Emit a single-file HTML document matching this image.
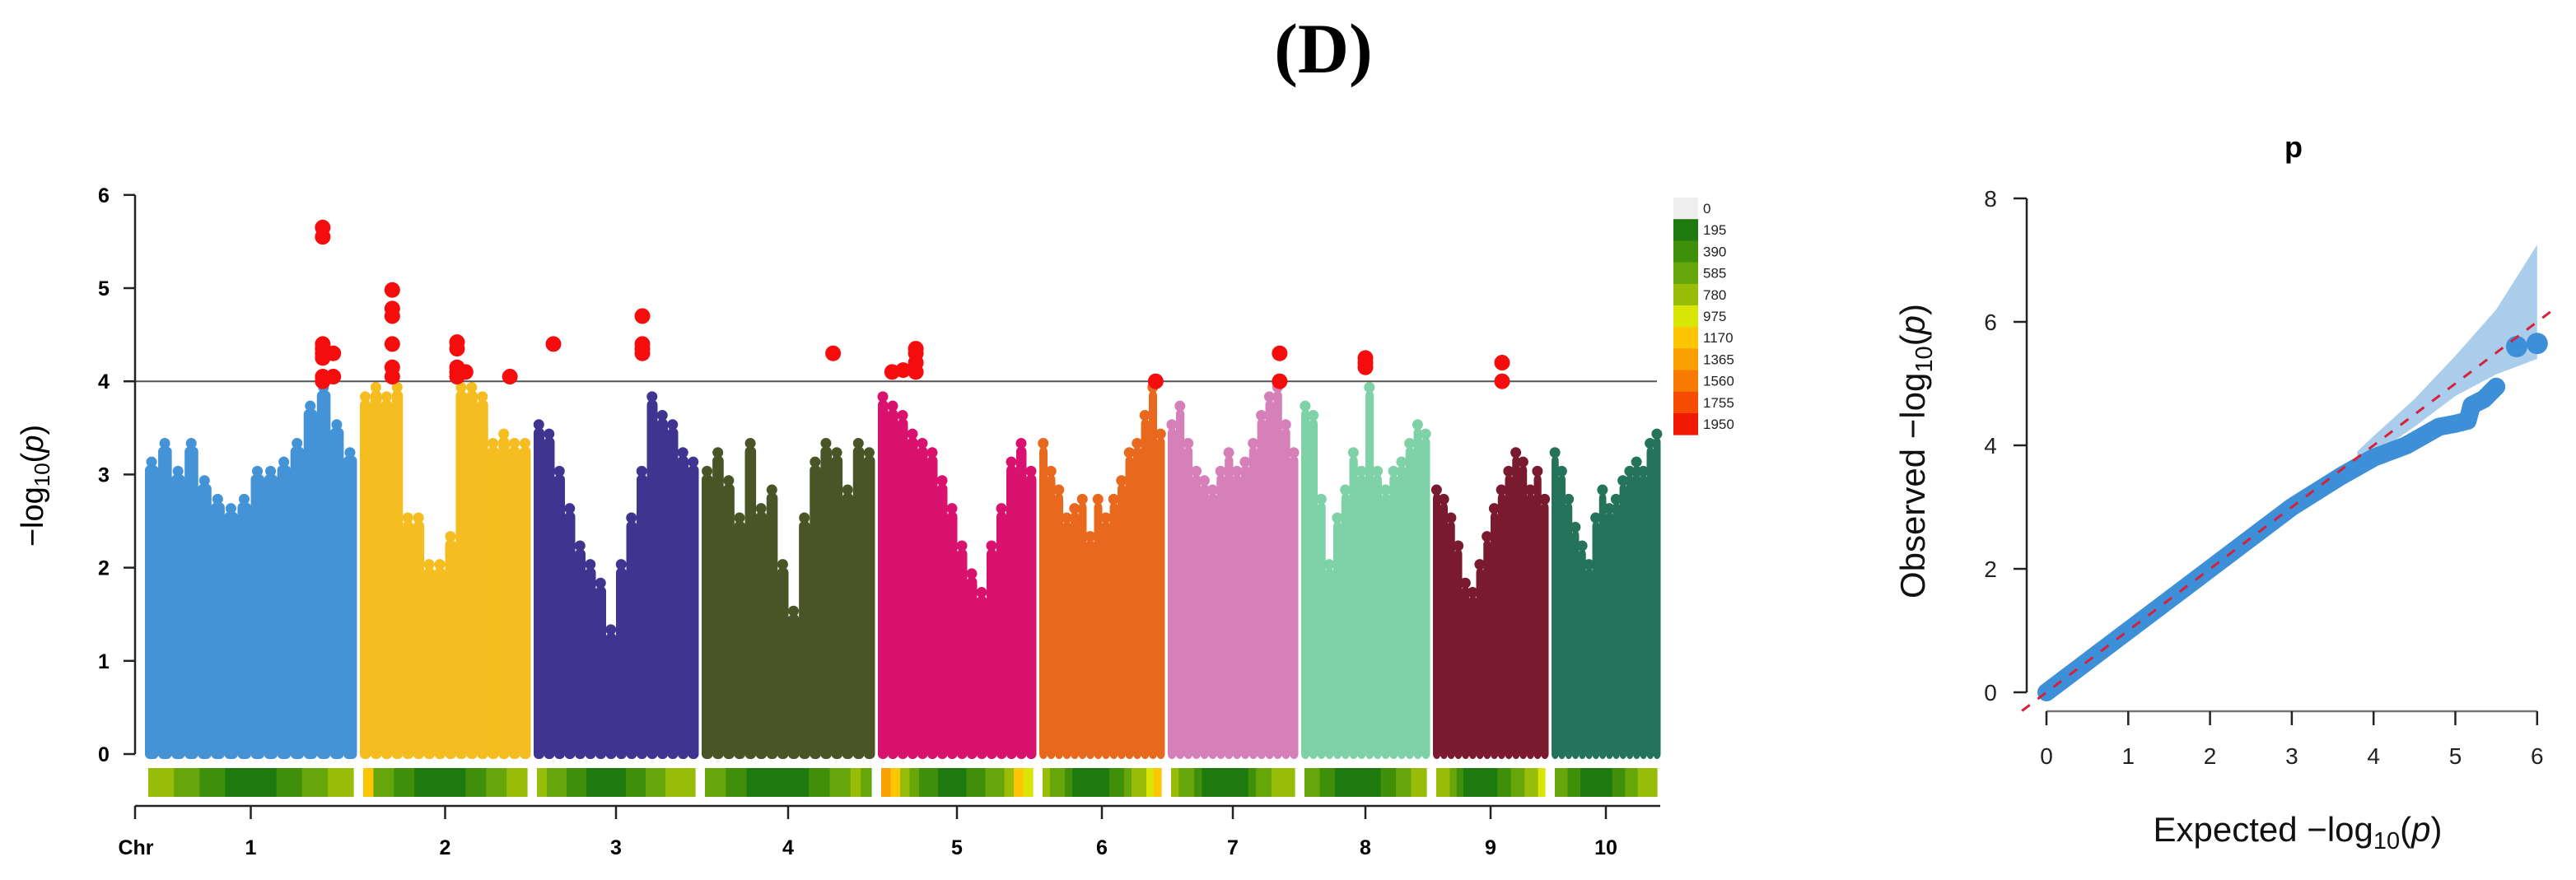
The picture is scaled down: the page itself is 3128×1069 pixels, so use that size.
<!DOCTYPE html>
<html><head><meta charset="utf-8"><style>
html,body{margin:0;padding:0;background:#fff;}
svg{display:block;font-family:"Liberation Sans",Arial,sans-serif;}
</style></head><body>
<svg id="fig" width="3128" height="1069" viewBox="0 0 3128 1069">
<text x="1607" y="88" text-anchor="middle" font-family="Liberation Serif,serif" font-weight="bold" font-size="86">(D)</text>
<g id="man"></g>
<g id="leg"></g>
<g id="qq"></g>
</svg>
<script>
const NS="http://www.w3.org/2000/svg";
function mk(p,t,a){const e=document.createElementNS(NS,t);for(const k in a)e.setAttribute(k,a[k]);p.appendChild(e);return e;}

// ---------- Manhattan data ----------
const chrNames=["1","2","3","4","5","6","7","8","9","10"];
const chrColors=["#4393d6","#f5bd1f","#3f3590","#4a5527","#d9116f","#e8681e","#d580b8","#7fd1a8","#7a1a2e","#26735b"];
const chrLengths=[257,207,200,210,192,152,158,156,140,132];
const chr1Peaks=[3.1,3.3,3.0,3.3,2.9,2.7,2.6,2.7,3.0,3.0,3.1,3.3,3.7,3.9,3.5,3.2];
const chr2Peaks=[3.8,3.9,3.8,3.9,2.5,2.5,2.0,2.0,2.3,3.9,3.9,3.8,3.3,3.4,3.3,3.3];
const chr3Peaks=[3.5,3.4,3.0,2.6,2.2,2.0,1.8,1.3,2.0,2.5,3.0,3.8,3.6,3.5,3.2,3.1];
const chr4Peaks=[3.0,3.2,2.9,2.5,3.3,2.6,2.8,2.0,1.5,2.5,3.1,3.3,3.2,2.8,3.3,3.2];
const chr5Peaks=[3.8,3.7,3.6,3.4,3.3,3.2,2.9,2.6,2.2,1.9,1.7,2.2,2.6,3.1,3.3,3.0];
const chr6Peaks=[3.3,3.0,2.8,2.5,2.6,2.7,2.3,2.7,2.5,2.7,2.9,3.2,3.3,3.6,3.9,3.4];
const chr7Peaks=[3.5,3.7,3.3,3.0,2.9,2.8,3.0,3.2,3.0,3.1,3.3,3.6,3.8,3.9,3.5,3.2];
const chr8Peaks=[3.7,3.6,2.7,2.0,2.5,2.8,3.2,3.0,3.9,3.0,2.8,3.0,3.1,3.3,3.5,3.4];
const chr9Peaks=[2.8,2.7,2.5,2.2,1.8,1.7,2.0,2.3,2.6,2.8,3.0,3.2,3.1,2.8,3.0,2.7];
const chr10Peaks=[3.2,3.0,2.7,2.4,2.2,2.0,2.5,2.8,2.6,2.7,2.9,3.0,3.1,3.0,3.3,3.4];
const peaks=[chr1Peaks,chr2Peaks,chr3Peaks,chr4Peaks,chr5Peaks,chr6Peaks,chr7Peaks,chr8Peaks,chr9Peaks,chr10Peaks];
const sigChr=[0,0,0,0,0,0,0,0,0,0, 1,1,1,1,1,1, 1,1,1,1,1,1,1, 2,2,2,2,2, 3, 4,4,4,4,4,4, 5, 6,6, 7,7,7, 8,8];
const sigPos=[0.84,0.84,0.84,0.84,0.84,0.84,0.84,0.84,0.89,0.89, 0.19,0.19,0.19,0.19,0.19,0.19, 0.57,0.57,0.57,0.57,0.57,0.62,0.88, 0.12,0.66,0.66,0.66,0.66, 0.76, 0.09,0.16,0.24,0.24,0.24,0.24, 0.93, 0.86,0.86, 0.5,0.5,0.5, 0.6,0.6];
const sigVal=[5.65,5.55,4.4,4.35,4.3,4.25,4.05,4.0,4.3,4.05, 4.98,4.78,4.7,4.4,4.15,4.05, 4.42,4.35,4.15,4.1,4.05,4.1,4.05, 4.4,4.7,4.4,4.35,4.3, 4.3, 4.1,4.12,4.35,4.3,4.2,4.1, 4.0, 4.3,4.0, 4.25,4.2,4.15, 4.2,4.0];
const yTicks=[0,1,2,3,4,5,6];
const threshold=4;
const densityLevels=[0,195,390,585,780,975,1170,1365,1560,1755,1950];
const densityColors=["#eeeeee","#1e7a0e","#3f8f0b","#66a60a","#97bd08","#d8e505","#fdc604","#f9a002","#f77a02","#f54c01","#f21a05"];
const chrDensity=[
 [900,800,700,600,500,400,300,200,250,350,450,550,650,750,850,950],
 [1200,700,600,500,400,300,200,150,200,300,400,500,600,700,800,900],
 [800,700,600,500,400,300,250,200,300,400,500,600,700,800,900,850],
 [700,600,500,400,300,250,200,150,200,300,400,500,600,700,800,750],
 [1500,1300,800,600,500,400,300,250,300,400,500,600,700,800,1200,1000],
 [900,700,600,400,300,250,200,200,300,400,500,600,800,900,1000,1300],
 [800,700,600,500,300,200,150,150,200,300,400,600,700,800,900,850],
 [700,600,500,400,300,200,150,200,250,300,400,500,600,700,800,900],
 [900,800,600,400,300,200,200,250,300,400,500,600,700,800,900,1000],
 [700,600,500,400,300,200,150,200,300,400,500,600,700,800,900,850]
];

const M={x0:164,y0:916,unit:113.2,start:176,gap:4,xEnd:2016};
function my(v){return M.y0-v*M.unit;}
const chrStart=[];{let s=M.start;for(let i=0;i<chrLengths.length;i++){chrStart.push(s);s+=chrLengths[i]+M.gap;}}
function mx(c,f){return chrStart[c]+f*chrLengths[c];}
function dColor(v){let i=1;for(let k=1;k<densityLevels.length;k++){if(v>=densityLevels[k])i=k;}return densityColors[i];}

const man=document.getElementById('man');
for(let c=0;c<peaks.length;c++){
  const g=mk(man,'g',{fill:chrColors[c]});
  
  
  const n=peaks[c].length,bw=chrLengths[c]/n;
  for(let b=0;b<n;b++){
    const x=mx(c,b/n),top=my(peaks[c][b]);
    const r=mk(g,'rect',{x:x,y:top,width:bw+0.5,height:M.y0-top+6,rx:6});
    
    
    const d=mk(g,'circle',{cx:x+bw/2,cy:top-4,r:6.5});
    
    
  }
}
const th=mk(man,'line',{x1:150,x2:2012,y1:my(threshold),y2:my(threshold),stroke:'#555',"stroke-width":2});


for(let i=0;i<sigVal.length;i++){
  const p=mk(man,'circle',{cx:mx(sigChr[i],sigPos[i]),cy:my(sigVal[i]),r:9.5,fill:'#f50d0d'});
  
  
}
for(let c=0;c<chrDensity.length;c++){
  const n=chrDensity[c].length,w=(chrLengths[c]-8)/n;
  for(let k=0;k<n;k++){
    const r=mk(man,'rect',{x:chrStart[c]+4+k*w,y:933,width:w+0.6,height:35,fill:dColor(chrDensity[c][k])});
    
    
  }
}
const ya=mk(man,'g',{stroke:'#222',"stroke-width":2.5});


mk(ya,'line',{x1:M.x0,x2:M.x0,y1:my(6),y2:my(0)});
for(const t of yTicks){
  mk(ya,'line',{x1:150,x2:M.x0,y1:my(t),y2:my(t)});
  const tx=mk(man,'text',{x:126,y:my(t)+9,"text-anchor":"middle","font-size":25,"font-weight":"bold"});
  tx.textContent=t;
  
  
}
const yl=mk(man,'text',{transform:'translate(52,590) rotate(-90)',"text-anchor":"middle","font-size":38});


yl.innerHTML='\u2212log<tspan font-size="26" dy="8">10</tspan><tspan dy="-8">(</tspan><tspan font-style="italic">p</tspan>)';
const xa=mk(man,'g',{stroke:'#222',"stroke-width":2.5});


mk(xa,'line',{x1:M.x0,x2:M.xEnd,y1:979,y2:979});
mk(xa,'line',{x1:M.x0,x2:M.x0,y1:979,y2:995});
const chrT=mk(man,'text',{x:165,y:1038,"text-anchor":"middle","font-size":25,"font-weight":"bold"});
chrT.textContent='Chr';


for(let c=0;c<chrNames.length;c++){
  const cx=mx(c,0.5);
  mk(xa,'line',{x1:cx,x2:cx,y1:979,y2:995});
  const t=mk(man,'text',{x:cx,y:1038,"text-anchor":"middle","font-size":25,"font-weight":"bold"});
  t.textContent=chrNames[c];
  
  
}
const leg=document.getElementById('leg');
for(let k=0;k<densityLevels.length;k++){
  const r=mk(leg,'rect',{x:2032,y:240+k*26.2,width:30,height:26.6,fill:densityColors[k]});
  
  
  const t=mk(leg,'text',{x:2068,y:240+k*26.2+19,"font-size":17,fill:'#222'});
  t.textContent=densityLevels[k];
  
  
}

// ---------- QQ data ----------
const qqExpected=[0,0.5,1,1.5,2,2.5,3,3.3,3.6,3.8,4.0,4.2,4.4,4.6,4.8,5.0,5.15,5.2,5.35,5.5];
const qqObserved=[0,0.5,1,1.5,2,2.5,3,3.25,3.5,3.65,3.8,3.9,4.0,4.15,4.3,4.35,4.4,4.65,4.75,4.95];
const qqTopExpected=[5.75,6.0];
const qqTopObserved=[5.6,5.65];
const ciX=[3.8,4.0,4.5,5.0,5.5,6.0];
const ciUpper=[3.9,4.15,4.75,5.45,6.2,7.25];
const ciLower=[3.7,3.85,4.3,4.8,5.15,5.4];
const qqXTicks=[0,1,2,3,4,5,6];
const qqYTicks=[0,2,4,6,8];
const Q={x0:2485,ux:99.3,y0:841,uy:75};
function qx(v){return Q.x0+v*Q.ux;}
function qy(v){return Q.y0-v*Q.uy;}
const qq=document.getElementById('qq');
let d='M'+ciX.map((v,i)=>qx(v)+','+qy(ciUpper[i])).join(' L');
for(let i=ciX.length-1;i>=0;i--)d+=' L'+qx(ciX[i])+','+qy(ciLower[i]);
const band=mk(qq,'path',{d:d+'Z',fill:'#aacdec'});


const ql=mk(qq,'polyline',{points:qqExpected.map((v,i)=>qx(v)+','+qy(qqObserved[i])).join(' '),fill:'none',stroke:'#3d8fd8',"stroke-width":22,"stroke-linecap":"round","stroke-linejoin":"round"});


for(let i=0;i<qqTopExpected.length;i++){
  const c=mk(qq,'circle',{cx:qx(qqTopExpected[i]),cy:qy(qqTopObserved[i]),r:13,fill:'#3d8fd8'});
  
  
}
const dl=mk(qq,'line',{x1:qx(-0.3),y1:qy(-0.3),x2:qx(6.2),y2:qy(6.2),stroke:'#d8203a',"stroke-width":3,"stroke-dasharray":"12,12"});


const qa=mk(qq,'g',{stroke:'#222',"stroke-width":2.5});


mk(qa,'line',{x1:2461,x2:2461,y1:qy(8),y2:qy(0)});
for(const t of qqYTicks){
  mk(qa,'line',{x1:2445,x2:2461,y1:qy(t),y2:qy(t)});
  const tx=mk(qq,'text',{x:2417,y:qy(t)+10,"text-anchor":"middle","font-size":28,fill:'#222'});
  tx.textContent=t;
  
  
}
mk(qa,'line',{x1:qx(0),x2:qx(6),y1:864,y2:864,stroke:'#777'});
for(const t of qqXTicks){
  mk(qa,'line',{x1:qx(t),x2:qx(t),y1:864,y2:881});
  const tx=mk(qq,'text',{x:qx(t),y:928,"text-anchor":"middle","font-size":28,fill:'#222'});
  tx.textContent=t;
  
  
}
const qxl=mk(qq,'text',{x:2790,y:1022,"text-anchor":"middle","font-size":42,fill:'#111'});


qxl.innerHTML='Expected  \u2212log<tspan font-size="29" dy="9">10</tspan><tspan dy="-9">(</tspan><tspan font-style="italic">p</tspan>)';
const qyl=mk(qq,'text',{transform:'translate(2337,548) rotate(-90)',"text-anchor":"middle","font-size":42,fill:'#111'});


qyl.innerHTML='Observed  \u2212log<tspan font-size="29" dy="9">10</tspan><tspan dy="-9">(</tspan><tspan font-style="italic">p</tspan>)';
const qt=mk(qq,'text',{x:2785,y:191,"text-anchor":"middle","font-size":36,"font-weight":"bold"});
qt.textContent='p';


</script>
</body></html>
